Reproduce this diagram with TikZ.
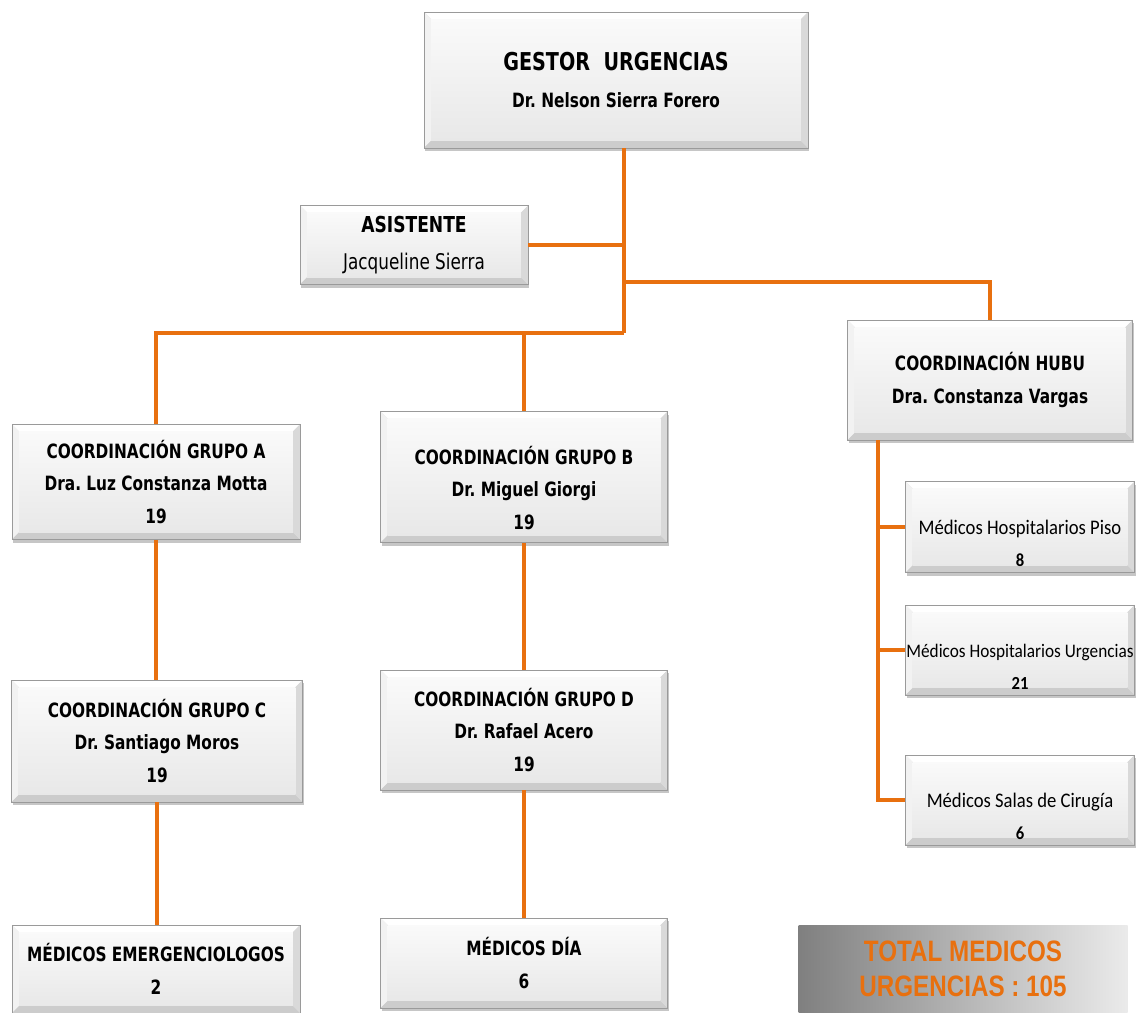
\documentclass[tikz,border=0pt]{standalone}
\usepackage{fontspec}
\setmainfont{DejaVu Sans}[FakeStretch=0.78]
\newfontfamily\calfont{Carlito}[FakeStretch=0.9]
\newfontfamily\arifont{Liberation Sans}[FakeStretch=0.82]
\usetikzlibrary{shadows}
\frenchspacing
\definecolor{Orange}{HTML}{E8700F}
\definecolor{BoxEdge}{HTML}{9A9A9A}
\newcommand\bv{path picture bounding box}
\tikzset{
  bevel/.style 2 args={draw=BoxEdge,line width=0.4pt,minimum width=#1*0.02cm,minimum height=#2*0.02cm,
    inner sep=0pt,align=center,fill=gray!25,
    drop shadow={shadow xshift=0.8pt,shadow yshift=-1.8pt,opacity=0.45},
    path picture={
      \fill[white] (\bv.north west) -- (\bv.north east) -- ([shift={(-4pt,-4pt)}]\bv.north east) -- ([shift={(4pt,-4pt)}]\bv.north west) -- cycle;
      \fill[gray!10] (\bv.north west) -- (\bv.south west) -- ([shift={(4pt,4pt)}]\bv.south west) -- ([shift={(4pt,-4pt)}]\bv.north west) -- cycle;
      \fill[gray!40] (\bv.south west) -- (\bv.south east) -- ([shift={(-4pt,4pt)}]\bv.south east) -- ([shift={(4pt,4pt)}]\bv.south west) -- cycle;
      \fill[gray!30] (\bv.north east) -- (\bv.south east) -- ([shift={(-4pt,4pt)}]\bv.south east) -- ([shift={(-4pt,-4pt)}]\bv.north east) -- cycle;
      \shade[top color=gray!4,bottom color=gray!18] ([shift={(4pt,-4pt)}]\bv.north west) rectangle ([shift={(-4pt,4pt)}]\bv.south east);
    }},
  head/.style={font=\fontsize{11.2}{18.5}\selectfont\bfseries},
  small/.style={font=\calfont\fontsize{11.8}{18}\selectfont},
  link/.style={Orange,line width=2.8pt}
}
\newcommand\pushdown{\mbox{}\\[4pt]}
\newcommand\pushmore{\mbox{}\\[9pt]}
\begin{document}
\begin{tikzpicture}[x=0.02cm,y=-0.02cm]
\useasboundingbox (0,0) rectangle (1137,1013);
% boxes
\node[bevel={384}{136},font=\fontsize{14}{21}\selectfont\bfseries] (gestor) at (616,80) {GESTOR\ \ URGENCIAS\\{\fontsize{11.2}{21}\selectfont Dr. Nelson Sierra Forero}};
\node[bevel={228}{79},font=\fontsize{12.5}{21}\selectfont] (asis) at (414,245) {\textbf{ASISTENTE}\\{\fontsize{12.3}{21}\selectfont Jacqueline Sierra}};
\node[bevel={285}{120},head] (hubu) at (990,380) {COORDINACIÓN HUBU\\Dra. Constanza Vargas};
\node[bevel={288}{115},head] (grpa) at (156,482) {COORDINACIÓN GRUPO A\\Dra. Luz Constanza Motta\\19};
\node[bevel={287}{131},head] (grpb) at (524,477) {\pushdown COORDINACIÓN GRUPO B\\Dr. Miguel Giorgi\\19};
\node[bevel={291}{122},head] (grpc) at (157,741) {COORDINACIÓN GRUPO C\\Dr. Santiago Moros\\19};
\node[bevel={287}{120},head] (grpd) at (524,730) {COORDINACIÓN GRUPO D\\Dr. Rafael Acero\\19};
\node[bevel={288}{88},head] (emerg) at (156,969) {MÉDICOS EMERGENCIOLOGOS\\2};
\node[bevel={287}{90},head] (dia) at (524,963) {MÉDICOS DÍA\\6};
\node[bevel={229}{91},small] (piso) at (1020,527) {\pushmore Médicos Hospitalarios Piso\\{\bfseries\fontsize{10.5}{18}\selectfont 8}};
\node[bevel={229}{90},small] (urg) at (1020,650) {\pushmore{\fontsize{10.9}{18}\selectfont Médicos Hospitalarios Urgencias}\\{\bfseries\fontsize{10.5}{18}\selectfont 21}};
\node[bevel={229}{90},small] (salas) at (1020,800) {\pushmore Médicos Salas de Cirugía\\{\bfseries\fontsize{10.5}{18}\selectfont 6}};
\node[left color=black!50,right color=black!8,minimum width=329*0.02cm,minimum height=87*0.02cm,inner sep=0pt,align=center,
  text=Orange,font=\arifont\bfseries\fontsize{16.8}{20}\selectfont] (total) at (963,969) {TOTAL MEDICOS\\URGENCIAS : 105};
% connectors
\coordinate (jA) at (624,244);
\coordinate (jH) at (624,282);
\coordinate (jB) at (624,333);
\coordinate (hx) at (878,440);
\draw[link] (jB |- gestor.south) -- (jB);
\draw[link] (asis.east) -- (asis.east -| jA);
\draw[link] (jH) -| (hubu.north);
\draw[link] (jB) -| (grpa.north);
\draw[link] (grpb.north |- jB) -- (grpb.north);
\draw[link] (grpa.south) -- (grpa.south |- grpc.north);
\draw[link] (grpc.south) -- (grpc.south |- emerg.north);
\draw[link] (grpb.south) -- (grpd.north);
\draw[link] (grpd.south) -- (dia.north);
\draw[link] (hx |- hubu.south) |- (salas.west);
\draw[link] (piso.west -| hx) -- (piso.west);
\draw[link] (urg.west -| hx) -- (urg.west);
\end{tikzpicture}
\end{document}
